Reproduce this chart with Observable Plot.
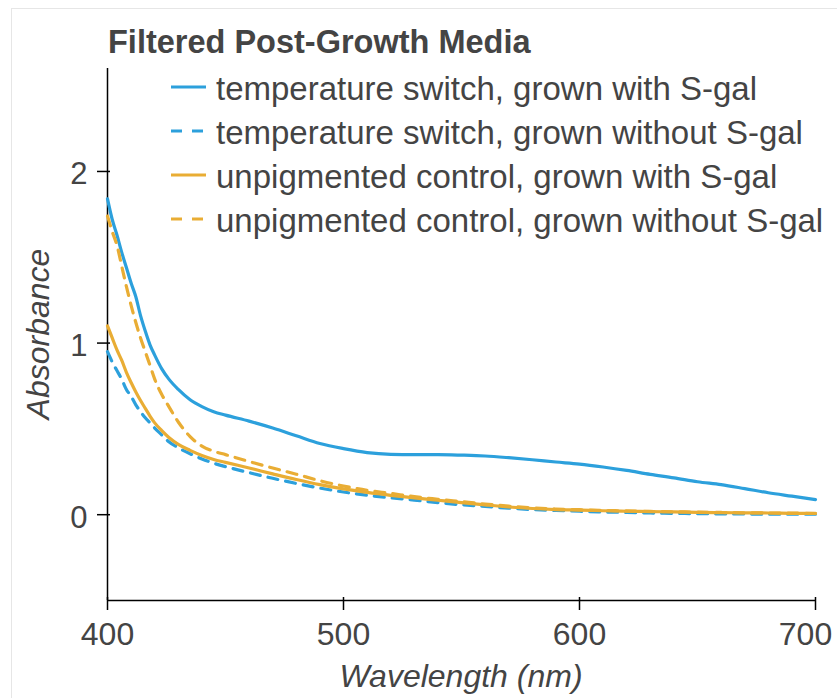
<!DOCTYPE html>
<html><head><meta charset="utf-8">
<script src="https://cdn.jsdelivr.net/npm/d3@7"></script>
<script src="https://cdn.jsdelivr.net/npm/@observablehq/plot@0.6"></script>
<style>
html,body{margin:0;padding:0;background:#fff;}
#wrap{position:relative;width:837px;height:698px;overflow:hidden;font-family:"Liberation Sans",Arial,sans-serif;}
#frame{position:absolute;left:11px;top:8px;width:900px;height:800px;border-left:1px solid #e6e6e6;border-top:1px solid #e6e6e6;}
#chart{position:absolute;left:0;top:0;}
#overlay{position:absolute;left:0;top:0;}
</style></head>
<body><div id="wrap"><div id="frame"></div><div id="chart"></div><svg id="overlay" width="837" height="698"></svg></div>
<script>
const wavelength = [400,402,404,406,408,410,412,414,416,418,420,423,426,430,435,440,445,450,460,470,480,490,500,510,520,530,540,550,560,570,580,590,600,610,620,630,640,650,660,670,680,690,700];
const tsWith    = [1.84,1.72,1.63,1.53,1.44,1.35,1.27,1.16,1.07,0.99,0.93,0.85,0.79,0.73,0.67,0.63,0.60,0.58,0.545,0.505,0.46,0.415,0.385,0.362,0.352,0.35,0.35,0.347,0.342,0.332,0.32,0.307,0.295,0.278,0.258,0.235,0.215,0.192,0.175,0.152,0.128,0.108,0.088];
const tsWithout = [0.95,0.89,0.84,0.79,0.73,0.69,0.64,0.60,0.565,0.535,0.505,0.465,0.425,0.39,0.355,0.325,0.30,0.28,0.245,0.212,0.182,0.155,0.132,0.113,0.098,0.085,0.07,0.058,0.048,0.038,0.03,0.025,0.02,0.016,0.013,0.01,0.008,0.006,0.005,0.004,0.003,0.003,0.003];
const ucWith    = [1.10,1.03,0.96,0.90,0.83,0.77,0.715,0.665,0.62,0.575,0.535,0.49,0.45,0.41,0.375,0.345,0.322,0.305,0.272,0.238,0.205,0.175,0.15,0.13,0.113,0.098,0.084,0.07,0.057,0.045,0.036,0.03,0.027,0.023,0.02,0.018,0.016,0.014,0.012,0.011,0.01,0.008,0.007];
const ucWithout = [1.74,1.65,1.57,1.45,1.33,1.22,1.12,1.03,0.95,0.87,0.79,0.70,0.63,0.54,0.455,0.40,0.37,0.35,0.31,0.272,0.236,0.198,0.167,0.142,0.124,0.105,0.09,0.076,0.062,0.05,0.04,0.033,0.029,0.025,0.022,0.019,0.017,0.015,0.013,0.011,0.01,0.009,0.008];
const seriesNames = ["temperature switch, grown with S-gal","temperature switch, grown without S-gal","unpigmented control, grown with S-gal","unpigmented control, grown without S-gal"];
const seriesColors = ["#2ca0dc","#2ca0dc","#e9ad34","#e9ad34"];
const seriesDash = [null,"10,8",null,"10,8"];
const xTicks = [400,500,600,700];
const yTicks = [0,1,2];
const titleText = "Filtered Post-Growth Media";
const xLabel = "Wavelength (nm)";
const yLabel = "Absorbance";

const series = [tsWith, tsWithout, ucWith, ucWithout];
const rows = [];
series.forEach((vals, i) => vals.forEach((v, j) => rows.push({wl: wavelength[j], a: v, s: seriesNames[i]})));

const lineMarks = series.map((vals, i) => Plot.line(rows.filter(r => r.s === seriesNames[i]), {
  x: "wl", y: "a", stroke: seriesColors[i], strokeWidth: 3.2, strokeDasharray: seriesDash[i], strokeLinejoin: "round", curve: "monotone-x"
}));

const fmt = d => String(d);
const chart = Plot.plot({
  width: 837, height: 698,
  marginLeft: 107, marginRight: 22, marginTop: 68, marginBottom: 98,
  x: {domain: [400, 700]},
  y: {domain: [-0.5, 2.6]},
  style: {fontFamily: "'Liberation Sans', Arial, sans-serif", background: "transparent", overflow: "visible"},
  marks: [
    Plot.ruleX([400], {stroke: "#000", strokeWidth: 1.5}),
    Plot.ruleY([-0.5], {stroke: "#000", strokeWidth: 1.5}),
    ...lineMarks,
    Plot.axisX({ticks: xTicks, tickSize: 13, dy: -3, fill: "none", stroke: "#000", strokeWidth: 1.5, label: null}),
    Plot.axisX({ticks: xTicks.slice(0, -1), tickFormat: fmt, tickSize: 0, tickPadding: 22, fontSize: 32, fill: "#444", label: null}),
    Plot.axisX({ticks: xTicks.slice(-1), tickFormat: fmt, tickSize: 0, tickPadding: 22, dx: -10, fontSize: 32, fill: "#444", label: null}),
    Plot.axisY({ticks: yTicks, tickSize: 13, dx: 3, fill: "none", stroke: "#000", strokeWidth: 1.5, label: null}),
    Plot.axisY({ticks: yTicks, tickFormat: fmt, tickSize: 0, tickPadding: 20, dy: 3, fontSize: 31, fill: "#444", label: null})
  ]
});
document.getElementById("chart").appendChild(chart);

const ov = d3.select("#overlay").style("font-family", "'Liberation Sans', Arial, sans-serif");
ov.append("text").attr("x", 108).attr("y", 53).attr("font-size", 32.5).attr("font-weight", "bold").attr("fill", "#444").text(titleText);
seriesNames.forEach((name, i) => {
  const cy = 87 + 44 * i;
  ov.append("line").attr("x1", 171).attr("x2", 206).attr("y1", cy).attr("y2", cy)
    .attr("stroke", seriesColors[i]).attr("stroke-width", 3).attr("stroke-dasharray", seriesDash[i] ? "11,10" : null);
  ov.append("text").attr("x", 216).attr("y", cy + 13).attr("font-size", 33).attr("fill", "#444").text(name);
});
ov.append("text").attr("transform", "translate(49,334) rotate(-90)").attr("text-anchor", "middle")
  .attr("font-size", 32).attr("font-style", "italic").attr("fill", "#444").text(yLabel);
ov.append("text").attr("x", 461).attr("y", 687).attr("text-anchor", "middle")
  .attr("font-size", 32).attr("font-style", "italic").attr("fill", "#444").text(xLabel);
</script>
</body></html>
